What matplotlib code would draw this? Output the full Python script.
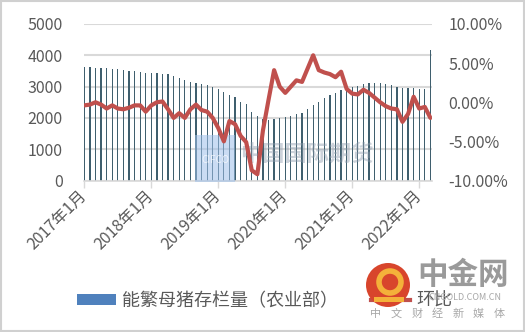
import matplotlib
matplotlib.use("Agg")
import matplotlib.pyplot as plt
from matplotlib.patches import Rectangle, Patch, Ellipse
from matplotlib.lines import Line2D

plt.rcParams['font.family'] = ['Noto Sans CJK SC', 'DejaVu Sans']

# ---- data ----
months = list(range(63))  # 2017-01 .. 2022-03
sow_stock = [3630, 3620, 3610, 3600, 3580, 3570, 3550, 3530, 3510, 3490, 3470, 3450,
             3430, 3420, 3410, 3390, 3330, 3270, 3200, 3160, 3130, 3090, 3050, 3000,
             2930, 2830, 2720, 2660, 2520, 2440, 2200, 2050, 1950, 1930, 1960, 2000,
             2030, 2060, 2110, 2170, 2270, 2400, 2510, 2640, 2720, 2810, 2880, 2940,
             2990, 3020, 3070, 3100, 3110, 3100, 3080, 3060, 3000, 2970, 2950, 2940,
             2920, 2920, 4185]
mom_pct = [-0.4, -0.3, 0.0, -0.3, -0.8, -0.4, -0.8, -0.9, -0.7, -0.4, -0.4, -1.2,
           -0.4, 0.0, 0.1, -0.9, -2.0, -1.4, -2.0, -0.9, -0.3, -1.0, -1.2, -2.0,
           -3.3, -5.0, -2.4, -2.8, -4.3, -5.1, -8.7, -9.2, -3.6, 0.3, 4.1, 2.0,
           1.2, 2.0, 2.8, 2.6, 4.3, 6.0, 4.1, 3.8, 3.6, 3.2, 3.9, 1.7,
           1.1, 1.0, 1.6, 1.2, 0.6, 0.0, -0.5, -0.8, -0.9, -2.5, -1.5, 0.7,
           -0.8, -0.6, -2.0]
year_ticks = [0, 12, 24, 36, 48, 60]
year_labels = ['2017年1月', '2018年1月', '2019年1月', '2020年1月', '2021年1月', '2022年1月']
left_ticks = [0, 1000, 2000, 3000, 4000, 5000]
right_ticks = [-10, -5, 0, 5, 10]
legend_labels = ['能繁母猪存栏量（农业部）', '环比']

W, H = 525, 332
fig = plt.figure(figsize=(W / 100, H / 100), dpi=100)
fig.patch.set_facecolor('white')

def fx(px):
    return px / W

def fy(py):
    return 1 - py / H

ax = fig.add_axes([fx(83.5), fy(180.5), 348 / W, 156.5 / H])
ax2 = ax.twinx()

txt_color = '#595959'
grid_color = '#d9d9d9'

# bars
ax.bar(months, sow_stock, width=0.22, color='#3f5f6e', zorder=2)
ax.set_ylim(0, 5000)
ax.set_xlim(-0.15, 62.2)
ax.set_yticks(left_ticks)
ax.set_yticklabels([str(v) for v in left_ticks])
ax.yaxis.grid(True, color=grid_color, linewidth=1.5, zorder=0)
ax.set_axisbelow(True)
ax.tick_params(axis='y', length=0, pad=15, labelsize=11.5, labelcolor=txt_color)
ax.set_xticks(year_ticks)
ax.set_xticklabels(year_labels, rotation=45, ha='right', va='center',
                   rotation_mode='anchor')
ax.tick_params(axis='x', length=5, width=1, color=grid_color, pad=4,
               labelsize=11.5, labelcolor=txt_color)
for s in ['top', 'right', 'left']:
    ax.spines[s].set_visible(False)
ax.spines['bottom'].set_color(grid_color)
ax.spines['bottom'].set_linewidth(1.2)

# line
ax2.plot(months, mom_pct, color='#c0504d', linewidth=3, solid_capstyle='round',
         solid_joinstyle='round')
ax2.set_ylim(-10, 10)
ax2.set_yticks(right_ticks)
ax2.set_yticklabels([f'{v:.2f}%' for v in right_ticks])
ax2.tick_params(axis='y', length=0, pad=12, labelsize=11.5, labelcolor=txt_color)
for s in ['top', 'right', 'left', 'bottom']:
    ax2.spines[s].set_visible(False)

# middle watermark (between bars and line)
ax.add_patch(Rectangle((fx(195), fy(182)), 40 / W, 47 / H, transform=fig.transFigure,
                       facecolor='#9fc0ea', alpha=0.55, edgecolor='none', clip_on=False, zorder=3))
ax.text(fx(215), fy(160), 'CIFCO', transform=fig.transFigure, color='white', alpha=0.7,
        fontsize=7, ha='center', va='center', zorder=4)
ax.text(fx(240), fy(154), '中国国际期货', transform=fig.transFigure, color='#8f9cad',
        alpha=0.45, fontsize=16, fontweight='bold', ha='left', va='center', zorder=4)

# legend
handles = [Patch(facecolor='#4f81bd', edgecolor='none'),
           Line2D([0], [0], color='#c0504d', linewidth=3)]
leg = fig.legend(handles, legend_labels, loc='center left',
                 bbox_to_anchor=(fx(70), fy(301)), ncol=2, frameon=False,
                 fontsize=13, handlelength=2.15, handleheight=0.5,
                 handletextpad=0.35, columnspacing=1.8, borderaxespad=0)
for t in leg.get_texts():
    t.set_color(txt_color)

# corner logo watermark
fig.patches.append(Ellipse((fx(388), fy(285)), 44 / W, 44 / H, transform=fig.transFigure,
                           facecolor='#d8452c', edgecolor='none', zorder=10))
fig.patches.append(Ellipse((fx(390), fy(282)), 22 / W, 22 / H, transform=fig.transFigure,
                           facecolor='none', edgecolor='#f4b13a', linewidth=4, zorder=11))
fig.patches.append(Rectangle((fx(374), fy(302)), 30 / W, 5 / H, transform=fig.transFigure,
                             facecolor='#f4b13a', edgecolor='none', zorder=11))
fig.text(fx(463), fy(275), '中金网', color='#9a9a9a', fontsize=22, fontweight='bold',
         ha='center', va='center', zorder=12)
fig.text(fx(465), fy(298), 'CNGOLD.COM.CN', color='#a8a8a8', fontsize=6.5,
         ha='center', va='center', zorder=12)
for i, ch in enumerate('中文财经新媒体'):
    fig.text(fx(376 + i * 20.5), fy(314), ch, color='#a8a8a8', fontsize=8,
             ha='center', va='center', zorder=12)

# outer frame
fig.patches.append(Rectangle((0.002, 0.003), 0.996, 0.994, transform=fig.transFigure,
                             facecolor='none', edgecolor='#d0d0d0', linewidth=1.5, zorder=20))

fig.savefig('out.png', dpi=100)
